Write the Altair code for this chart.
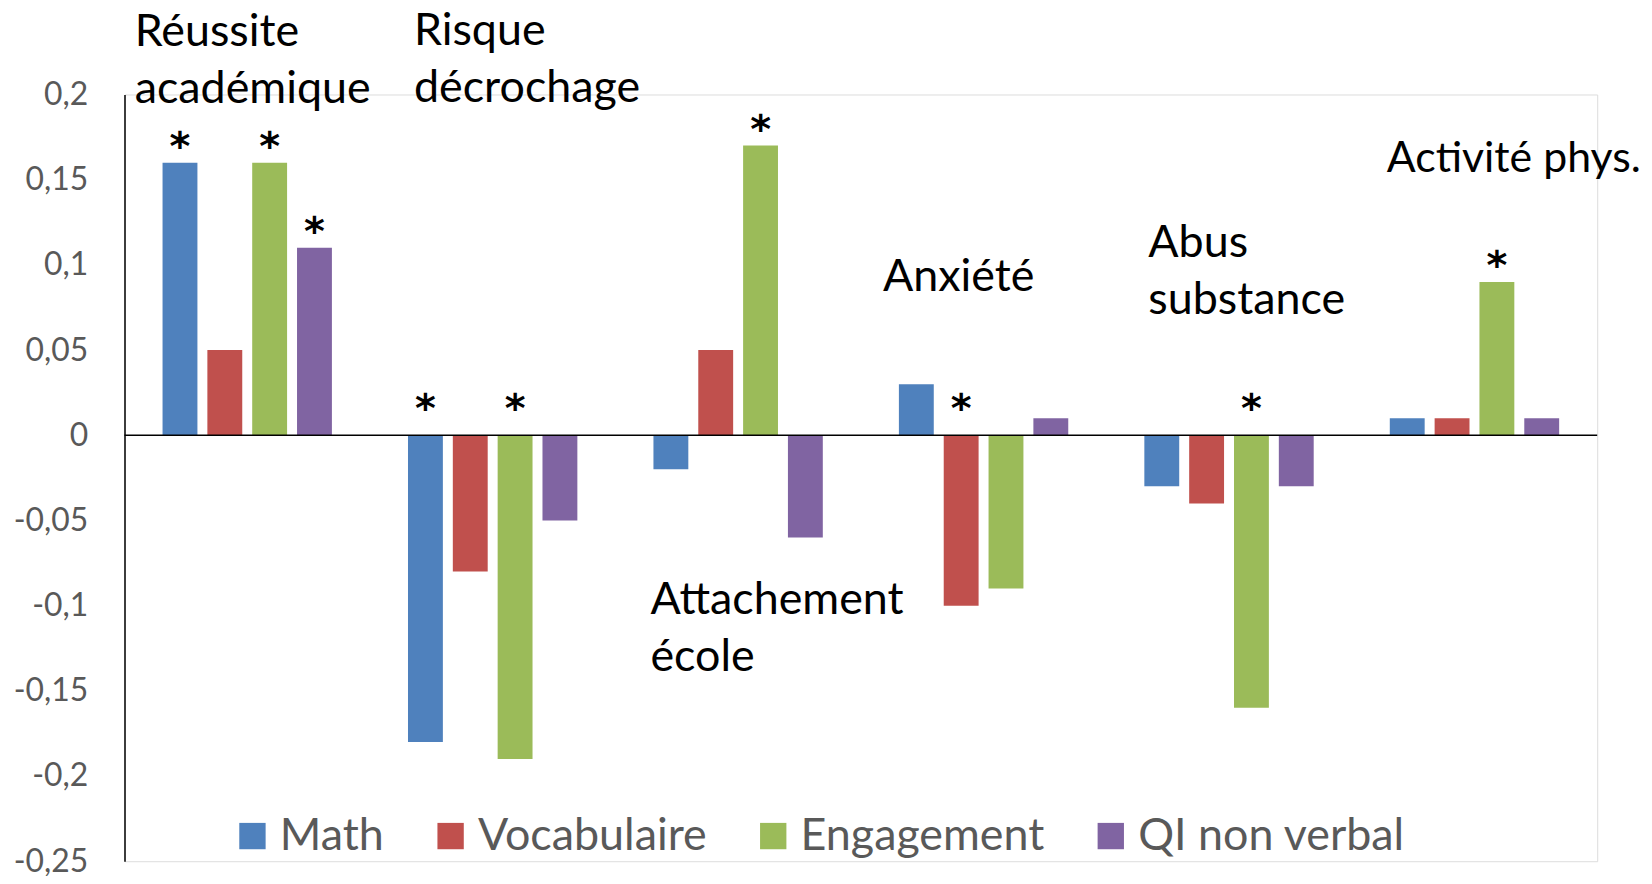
import altair as alt
import pandas as pd

# ---- data ----
categories = ["Réussite académique", "Risque décrochage", "Attachement école",
              "Anxiété", "Abus substance", "Activité phys."]
series = ["Math", "Vocabulaire", "Engagement", "QI non verbal"]
colors = ["#4F81BD", "#C0504D", "#9BBB59", "#8064A2"]

math = [0.16, -0.18, -0.02, 0.03, -0.03, 0.01]
vocabulaire = [0.05, -0.08, 0.05, -0.10, -0.04, 0.01]
engagement = [0.16, -0.19, 0.17, -0.09, -0.16, 0.09]
qi = [0.11, -0.05, -0.06, 0.01, -0.03, 0.01]

# significance stars (1 = "*")
math_sig = [1, 1, 0, 0, 0, 0]
vocabulaire_sig = [0, 0, 0, 1, 0, 0]
engagement_sig = [1, 1, 1, 0, 1, 1]
qi_sig = [1, 0, 0, 0, 0, 0]

tick_values = [0.2, 0.15, 0.1, 0.05, 0, -0.05, -0.1, -0.15, -0.2, -0.25]

# category annotation texts and their baseline anchor (data units)
label_texts = ["Réussite\nacadémique", "Risque\ndécrochage", "Attachement\nécole",
               "Anxiété", "Abus\nsubstance", "Activité phys."]
label_anchor = [0.2285, 0.2291, -0.1052, 0.0847, 0.1046, 0.1543]
label_dx = [-28, 6, -3, -16, 4, -3]
label_size = [45, 45, 45, 45, 45, 43]

# ---- build table ----
rows = []
for vals, sig, s in zip([math, vocabulaire, engagement, qi],
                        [math_sig, vocabulaire_sig, engagement_sig, qi_sig], series):
    for c, v, g in zip(categories, vals, sig):
        rows.append({"cat": c, "serie": s, "value": v, "sig": "*" if g else ""})
df = pd.DataFrame(rows)

FONT = "Lato"
W, H = 1479, 770

x_scale = alt.Scale(domain=categories, paddingInner=0.31, paddingOuter=0.155)
xoff_scale = alt.Scale(domain=series, paddingInner=0.222, paddingOuter=0)
y_scale = alt.Scale(domain=[-0.25, 0.2], nice=False, zero=False)

base = alt.Chart(df)

bars = base.mark_bar().encode(
    x=alt.X("cat:N", scale=x_scale, sort=categories, axis=None),
    xOffset=alt.XOffset("serie:N", scale=xoff_scale, sort=series),
    y=alt.Y("value:Q", scale=y_scale, title=None,
            axis=alt.Axis(values=tick_values, grid=False, ticks=False, tickSize=0,
                          domainColor="black", domainWidth=1.5,
                          labelFont=FONT, labelFontSize=32, labelColor="#595959",
                          labelPadding=37,
                          labelExpr="replace(replace(format(datum.value, '.2~f'), '.', ','), '\u2212', '-')")),
    color=alt.Color("serie:N", sort=series,
                    scale=alt.Scale(domain=series, range=colors),
                    legend=alt.Legend(orient="none", direction="horizontal",
                                      legendX=106, legendY=722, title=None,
                                      symbolType="square", symbolSize=700,
                                      symbolStrokeWidth=0, symbolOpacity=1,
                                      labelFont=FONT, labelFontSize=45,
                                      labelColor="#595959", labelOffset=5,
                                      labelLimit=600,
                                      columnPadding=44, padding=0)),
)

zero_rule = alt.Chart(pd.DataFrame({"z": [0]})).mark_rule(
    color="black", strokeWidth=1.5).encode(y=alt.Y("z:Q", scale=y_scale))

stars = base.transform_filter("datum.sig != ''").transform_calculate(
    star_y="datum.value > 0 ? datum.value : 0.006"
).mark_text(font="DejaVu Sans", fontSize=40, fontWeight="bold", color="black",
            baseline="alphabetic", dy=-3).encode(
    x=alt.X("cat:N", scale=x_scale, sort=categories),
    xOffset=alt.XOffset("serie:N", scale=xoff_scale, sort=series),
    y=alt.Y("star_y:Q", scale=y_scale),
    text="sig:N",
)

label_layers = []
for c, t, a, d, fs in zip(categories, label_texts, label_anchor, label_dx, label_size):
    ldf = pd.DataFrame({"cat": [c], "y": [a], "t": [t]})
    label_layers.append(
        alt.Chart(ldf).mark_text(font=FONT, fontSize=fs, color="black",
                                 align="left", baseline="alphabetic",
                                 lineBreak="\n", lineHeight=57, dx=d).encode(
            x=alt.X("cat:N", scale=x_scale, sort=categories, bandPosition=0),
            y=alt.Y("y:Q", scale=y_scale),
            text="t:N",
        )
    )

chart = alt.layer(bars, zero_rule, stars, *label_layers).properties(
    width=W, height=H,
    padding={"left": 117, "top": 85, "right": 47, "bottom": 13},
    autosize=alt.AutoSizeParams(type="none"),
).configure_view(strokeWidth=0).configure(font=FONT)

chart.save("out.html", embed_options={"renderer": "svg", "actions": False})
